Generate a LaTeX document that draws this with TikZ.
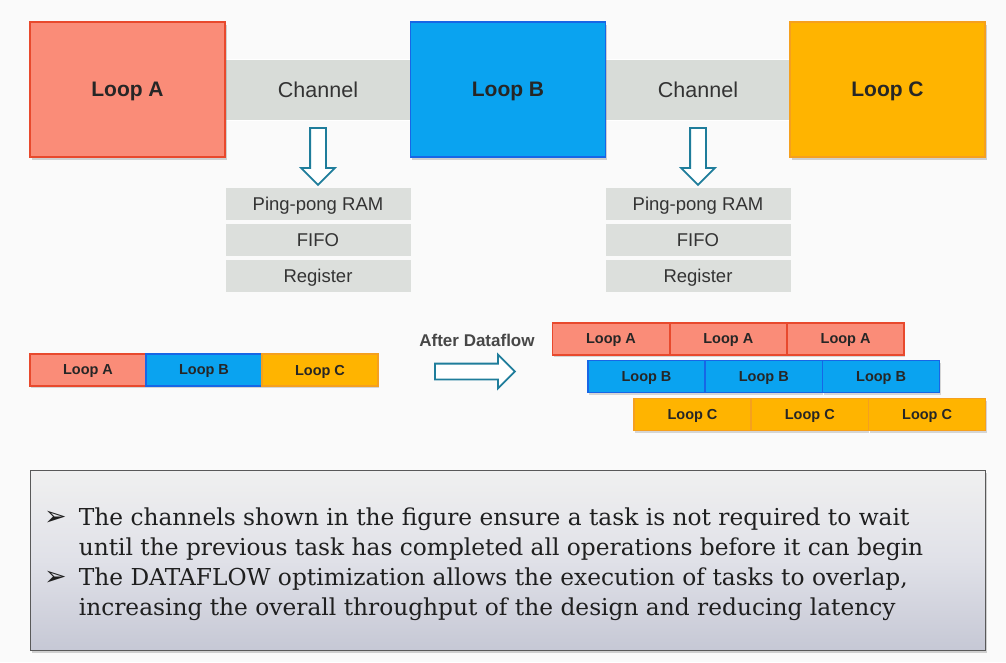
\documentclass[tikz,border=0pt]{standalone}
\usepackage{fontspec}
\setsansfont{Liberation Sans}
\newfontfamily\bulletfont{DejaVu Sans}
\newfontfamily\notefont{DejaVu Serif}
\usepackage{tikz}
\usetikzlibrary{shapes.arrows,shadows}

\definecolor{pagebg}{HTML}{FAFAFA}
\definecolor{loopAfill}{HTML}{FA8C78}
\definecolor{loopAline}{HTML}{E8492D}
\definecolor{loopBfill}{HTML}{0AA3F0}
\definecolor{loopBline}{HTML}{1766E6}
\definecolor{loopCfill}{HTML}{FFB400}
\definecolor{loopCline}{HTML}{F5A01E}
\definecolor{chanfill}{HTML}{D8DCD8}
\definecolor{memfill}{HTML}{DCDFDC}
\definecolor{arrowteal}{HTML}{1F7D9B}
\definecolor{notetop}{HTML}{F0F0F0}
\definecolor{notemid}{HTML}{E0E1E8}
\definecolor{notebot}{HTML}{C6C8D5}

\begin{document}
\begin{tikzpicture}[x=1pt,y=-1pt,
    bigloop/.style={draw, line width=1.6pt, minimum width=195pt, minimum height=135pt, inner sep=0pt,
        text depth=0pt, font=\sffamily\bfseries\fontsize{21}{24}\selectfont, text=black!85,
        drop shadow={opacity=0.35, shadow xshift=1.5pt, shadow yshift=-2.5pt}},
    chanbox/.style={fill=chanfill, draw=white, line width=0.8pt, minimum width=186pt, minimum height=61pt,
        inner sep=0pt, text depth=0pt, font=\sffamily\fontsize{21.5}{24}\selectfont, text=black!80},
    memory/.style={fill=memfill, minimum width=185pt, minimum height=32pt, inner sep=0pt,
        text depth=0pt, font=\sffamily\fontsize{18.5}{20}\selectfont, text=black!80},
    hollowarrow/.style={single arrow, draw=arrowteal, fill=white, line width=1.8pt, inner sep=7pt,
        minimum width=33pt, single arrow head extend=9pt},
    smallloop/.style={draw, line width=1.5pt, minimum width=116pt, minimum height=32pt, inner sep=0pt,
        text depth=0pt, font=\sffamily\bfseries\fontsize{14.5}{16}\selectfont, text=black!85,
        drop shadow={opacity=0.3, shadow xshift=1pt, shadow yshift=-2pt}},
    loopa/.style={smallloop, fill=loopAfill, draw=loopAline},
    loopb/.style={smallloop, fill=loopBfill, draw=loopBline},
    loopc/.style={smallloop, fill=loopCfill, draw=loopCline}]
\useasboundingbox[fill=pagebg] (0,0) rectangle (1006,662);

% channels and loops
\node[chanbox] (chanAB) at (318,90) {Channel};
\node[chanbox] (chanBC) at (698,90) {Channel};
\node[bigloop, fill=loopAfill, draw=loopAline] (bigA) at (127.5,89.5) {Loop A};
\node[bigloop, fill=loopBfill, draw=loopBline] (bigB) at (508,89.5) {Loop B};
\node[bigloop, fill=loopCfill, draw=loopCline] (bigC) at (887.5,89.5) {Loop C};

% channel kinds
\node[hollowarrow, minimum height=57pt, shape border rotate=270] (downAB) at (318,152.5) {};
\node[hollowarrow, minimum height=57pt, shape border rotate=270] (downBC) at (698,152.5) {};
\node[memory] (ramAB) at (318,204) {Ping-pong RAM};
\node[memory] (fifoAB) at (318,240) {FIFO};
\node[memory] (regAB) at (318,276) {Register};
\node[memory] (ramBC) at (698,204) {Ping-pong RAM};
\node[memory] (fifoBC) at (698,240) {FIFO};
\node[memory] (regBC) at (698,276) {Register};

% sequential execution
\node[loopa] (seqA) at (88,370) {Loop A};
\node[loopb] (seqB) at (204,370) {Loop B};
\node[loopc] (seqC) at (320,370) {Loop C};

\node[font=\sffamily\bfseries\fontsize{17}{20}\selectfont, text=black!72] (after) at (477,340) {After Dataflow};
\node[hollowarrow, minimum height=80pt] (rightarrow) at (471,371.5) {};

% overlapped execution
\foreach \i in {0,1,2} {
    \node[loopa, minimum width=117pt] (pipeA\i) at (611+117.3*\i,339) {Loop A};
    \node[loopb, minimum width=117pt] (pipeB\i) at (646.5+117.3*\i,376.5) {Loop B};
    \node[loopc, minimum width=117pt] (pipeC\i) at (692.5+117.3*\i,414.5) {Loop C};
}

% notes
\node[draw=black!65, line width=0.8pt, top color=notetop, bottom color=notebot, middle color=notemid,
    minimum width=955pt, minimum height=180pt, inner sep=0pt,
    drop shadow={opacity=0.35, shadow xshift=1.5pt, shadow yshift=-2pt}] (notebox) at (507.5,560.5) {};
\node[anchor=north west, inner sep=0pt, text=black!88, font=\notefont\fontsize{23.3}{30}\selectfont] (notetext) at (44,504)
    {\begin{tabular}{@{}l@{\hspace{12pt}}l@{}}
     {\bulletfont\fontsize{27}{30}\selectfont ➢} & The channels shown in the figure ensure a task is not required to wait\\
     & until the previous task has completed all operations before it can begin\\
     {\bulletfont\fontsize{27}{30}\selectfont ➢} & The DATAFLOW optimization allows the execution of tasks to overlap,\\
     & increasing the overall throughput of the design and reducing latency
     \end{tabular}};
\end{tikzpicture}
\end{document}
